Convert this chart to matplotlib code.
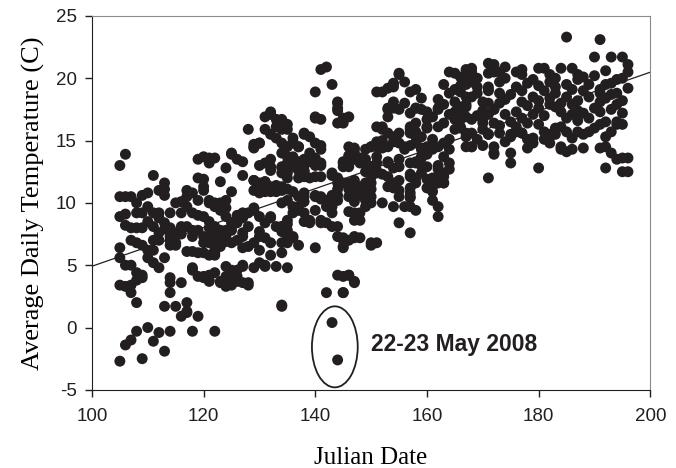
import matplotlib
matplotlib.use("Agg")
import matplotlib.pyplot as plt
from matplotlib.patches import Ellipse
import numpy as np

plt.rcParams["axes.unicode_minus"] = False

# (julian day, average daily temperature in C)
early = [
    (106, 13.9), (105, 13.0), (111, 12.2), (113, 11.6), (113, 11.1), (112, 11.0), (113, 10.6),
    (120, 13.7), (122, 13.6), (121, 13.2), (119, 12.0), (120, 11.9), (123, 11.7), (124, 12.8),
    (105, 10.5), (106, 10.5), (107, 10.5), (117, 11.0), (118, 10.8), (117, 10.5), (116, 10.1),
    (115, 10.0), (120, 11.0), (121, 10.2), (122, 10.0), (123, 10.0), (124, 10.2),
    (105, 8.9), (106, 8.2), (108, 9.2), (109, 9.2), (111, 9.2), (112, 9.2), (114, 9.2), (116, 9.2),
    (107, 8.0), (108, 8.0), (109, 8.0), (110, 8.5), (113, 8.4), (116, 8.1), (115, 7.6), (114, 7.0),
    (118, 7.8), (119, 7.8), (120, 7.3), (121, 8.0), (122, 7.8), (124, 7.4), (125, 7.8),
    (121, 7.2), (123, 7.0), (124, 6.9), (107, 7.0), (108, 6.8), (109, 6.6),
    (111, 7.0), (112, 7.0), (114, 7.3), (115, 6.8), (105, 6.4), (110, 6.2), (111, 6.2), (114, 6.6),
    (115, 6.6), (117, 6.1), (118, 6.1), (120, 6.0), (122, 5.8), (105, 5.6), (106, 5.0), (107, 5.0),
    (110, 5.6), (111, 5.2), (112, 4.8), (113, 5.6), (118, 4.8),
    (108, 4.4), (109, 4.2), (109, 4.0), (108, 3.8), (114, 4.0), (120, 4.0), (121, 4.2), (121, 3.7),
    (123, 3.6), (125, 3.8), (124, 3.3), (105, 3.4), (106, 3.3), (107, 3.4), (107, 2.8), (114, 3.6),
    (116, 3.6), (114, 2.8), (108, 2.0), (113, 1.7), (115, 1.7), (117, 2.0),
    (116, 0.9), (117, 1.2), (119, 0.9), (118, -0.3), (122, -0.3), (114, -0.3), (108, -0.3),
    (110, 0.0), (106, -1.4), (107, -1.0), (112, -0.4), (111, -1.1), (113, -1.9), (105, -2.7), (109, -2.5),
    (120, 11.3), (118, 7.3), (117, 8.1), (123, 9.4), (124, 8.9), (122, 7.3), (122, 6.2), (120, 6.8),
    (118, 4.6), (120, 4.1), (122, 4.4), (124, 4.1), (117, 1.3),
    (119, 13.5), (121, 13.6), (119, 10.2), (121, 10.0), (122, 9.7), (124, 9.6), (120, 8.9),
    (121, 8.5), (122, 8.1), (123, 7.8), (125, 8.1), (121, 6.8), (122, 7.0), (123, 6.5), (125, 6.8),
    (119, 6.0), (121, 5.8), (122, 6.0), (124, 4.9), (119, 4.1), (121, 3.8), (123, 3.7), (125, 3.4),
    (110, 9.7), (112, 8.8), (113, 7.9), (111, 8.1), (112, 7.6), (114, 8.0), (116, 7.5), (117, 9.7),
    (118, 9.2), (119, 9.0), (110, 10.8), (109, 10.6), (106, 9.1), (108, 10.0),
]

mid = [
    (132, 17.1), (133, 16.7), (134, 16.1), (135, 15.9), (131, 15.9), (132, 15.5), (133, 15.2),
    (128, 15.9), (129, 14.7), (130, 14.8), (129, 14.4),
    (134, 14.8), (135, 14.5), (136, 14.9), (137, 14.5), (138, 15.5), (139, 15.3), (140, 14.8),
    (141, 14.6), (140, 16.8), (141, 16.7), (144, 18.0), (144, 17.4), (146, 16.9), (145, 16.4),
    (125, 14.0), (126, 13.5), (127, 13.3),
    (132, 13.5), (132, 12.9), (134, 12.8), (135, 13.2), (136, 12.9), (137, 12.6), (138, 12.5),
    (138, 13.0), (139, 13.3), (140, 13.6), (141, 13.0), (137, 13.3), (130, 13.0), (132, 12.6),
    (125, 10.9), (129, 11.8), (131, 11.7), (132, 11.3), (133, 11.2), (134, 11.0), (131, 10.9),
    (129, 11.0), (130, 10.8), (135, 12.0), (137, 12.0), (138, 12.1), (143, 12.2), (144, 12.0),
    (145, 11.6), (147, 11.5), (147, 11.8), (146, 13.7), (147, 14.3), (146, 14.5), (145, 13.3),
    (126, 9.0), (128, 9.2), (129, 9.6), (138, 10.5), (138, 10.1), (137, 9.7), (136, 9.2),
    (140, 10.6), (141, 10.5), (142, 10.2), (143, 9.7), (144, 10.2), (143, 9.2), (142, 9.7),
    (126, 8.4), (127, 8.8), (128, 8.1), (130, 7.7), (130, 7.3), (132, 8.9), (133, 8.1), (134, 7.7),
    (135, 8.3), (139, 8.6), (141, 8.4), (143, 8.1), (147, 8.6),
    (127, 7.3), (128, 6.5), (131, 7.2), (135, 6.8), (136, 7.3), (137, 6.6), (140, 6.4), (145, 7.2),
    (147, 7.3), (145, 6.5), (132, 5.8), (126, 4.6), (127, 5.0), (129, 4.8), (131, 5.0), (135, 4.8),
    (128, 3.4), (126, 3.7), (144, 4.2), (146, 4.2), (147, 3.7), (142, 2.8), (145, 2.8), (134, 1.7),
    (131, 16.9), (132, 17.3), (133, 16.1), (134, 15.9), (129, 14.5), (130, 14.8), (125, 13.9),
    (131, 13.2), (134, 12.9), (127, 12.2), (129, 11.8), (130, 11.6), (130, 11.3), (131, 11.7),
    (133, 11.4), (133, 10.9), (132, 10.9), (125, 8.4), (124, 7.8), (126, 7.0), (127, 7.6),
    (127, 9.2), (129, 9.4), (130, 8.9), (131, 8.4), (132, 8.8), (134, 8.1), (135, 8.6), (129, 6.8),
    (130, 6.2), (132, 6.8), (127, 6.4), (125, 4.6), (126, 4.1), (127, 4.9), (127, 3.6), (128, 3.6),
    (130, 5.2), (131, 4.9), (133, 4.9), (134, 6.0),
    (141, 20.7), (142, 20.9), (140, 18.9), (143, 19.5), (144, 18.1), (144, 17.6), (140, 16.9),
    (134, 16.7), (135, 16.3), (151, 18.9), (151, 16.1), (136, 15.2), (138, 15.6), (136, 14.8),
    (137, 14.5), (139, 14.0), (141, 14.3), (134, 14.0), (135, 13.7), (136, 13.7), (137, 13.2),
    (138, 13.5), (140, 13.0), (141, 13.2), (134, 12.4), (135, 12.4), (138, 12.6), (140, 12.1),
    (139, 12.0), (141, 12.1), (143, 12.4), (145, 12.9), (146, 13.2), (147, 14.0), (149, 14.3),
    (150, 14.5), (148, 13.2), (149, 13.5), (150, 12.9), (151, 13.2), (150, 12.1), (151, 12.4),
    (134, 11.3), (135, 11.1), (136, 10.9), (137, 10.5), (138, 10.8), (140, 10.5), (141, 10.3),
    (143, 10.6), (143, 10.0), (144, 11.1), (146, 11.1), (147, 10.9), (149, 11.3), (150, 11.1),
    (149, 10.5), (150, 10.5), (147, 10.1), (149, 9.7), (148, 9.2), (134, 10.0), (135, 10.2),
    (136, 9.7), (137, 9.4), (138, 9.2), (140, 9.4), (138, 8.5), (139, 8.4), (141, 8.6), (142, 8.4),
    (144, 8.1), (134, 8.1), (135, 7.8), (135, 7.3), (134, 6.8), (136, 7.2), (145, 7.0), (147, 7.2),
    (145, 6.4), (150, 6.8), (147, 3.6), (134, 1.8),
]

late = [
    (155, 20.3), (156, 19.7), (154, 19.5), (154, 19.3), (152, 18.9), (157, 18.9),
    (154, 18.1), (156, 18.0), (155, 17.5), (153, 17.6), (153, 16.9),
    (159, 18.4), (158, 17.6), (160, 17.3), (162, 18.3), (162, 17.6), (161, 16.9),
    (152, 15.9), (145, 16.8), (144, 16.4), (157, 15.9), (158, 15.7), (160, 16.0), (159, 15.3),
    (161, 15.1), (158, 15.3), (150, 14.5), (151, 14.5), (152, 15.0), (154, 15.3), (155, 14.8),
    (156, 14.5), (147, 14.4), (146, 13.8), (145, 13.2), (147, 13.5), (146, 12.9), (148, 13.6),
    (149, 13.2), (150, 12.9), (149, 12.5), (153, 13.3), (154, 12.8), (155, 12.9), (157, 12.3),
    (157, 12.1), (155, 11.8), (159, 14.4), (160, 14.5), (160, 13.9), (161, 14.3), (159, 13.7),
    (158, 13.2), (159, 13.0), (144, 11.6), (146, 11.6), (147, 11.2), (148, 11.3), (149, 11.6),
    (150, 11.6), (144, 10.6), (146, 10.5), (148, 10.6), (149, 10.8), (149, 10.2), (150, 10.0),
    (152, 10.0), (154, 9.7), (155, 10.5), (157, 10.8), (153, 11.3), (154, 11.2), (157, 10.4),
    (157, 9.7), (161, 12.0), (162, 11.8), (162, 12.1), (163, 12.4), (163, 11.6), (161, 11.3),
    (160, 11.2), (162, 13.0), (163, 13.7), (164, 14.3), (164, 15.1), (161, 10.2), (162, 9.7),
    (162, 8.9), (147, 9.2), (148, 8.6), (146, 9.3), (155, 8.4), (157, 7.6), (144, 7.3), (146, 7.0),
    (148, 7.2), (150, 6.6), (145, 4.1), (146, 4.2), (145, 2.8),
    (164, 20.5), (165, 20.4), (166, 20.1), (167, 20.7), (168, 20.5), (169, 20.0), (171, 20.4),
    (172, 21.1), (173, 20.5), (165, 19.1), (165, 18.1), (165, 17.3), (166, 17.3), (167, 17.7),
    (168, 18.5), (169, 18.8), (170, 18.1), (171, 19.1), (171, 18.0), (172, 17.5), (172, 16.4),
    (165, 16.7), (166, 16.7), (167, 16.9), (168, 16.7), (170, 16.4), (170, 16.7), (165, 15.9),
    (167, 15.6), (168, 15.6), (170, 15.9), (171, 15.5), (167, 14.5), (168, 14.5), (171, 12.0),
    (155, 20.4), (154, 19.6), (153, 19.2), (158, 19.1), (167, 20.3), (168, 20.8), (168, 19.7),
    (167, 19.5), (166, 18.9), (167, 18.5), (166, 17.7), (167, 17.9), (162, 17.5), (158, 17.6),
    (159, 17.5), (157, 17.2), (153, 17.5), (154, 17.6), (166, 16.1), (167, 15.3), (166, 16.0),
    (152, 16.1), (153, 15.6), (155, 15.6), (157, 15.6), (157, 16.1), (158, 16.4), (160, 16.7),
    (162, 16.1), (160, 16.1), (163, 14.8), (162, 14.5), (164, 13.2), (162, 12.7), (163, 12.1),
    (164, 12.7), (162, 11.6), (163, 11.6), (151, 14.9), (152, 14.4), (153, 14.5), (154, 14.9),
    (156, 14.3), (151, 13.7), (153, 13.2), (155, 13.5), (157, 13.2), (158, 13.3), (159, 13.6),
    (157, 14.6), (158, 14.8), (159, 14.3), (160, 12.9), (159, 12.4), (160, 11.9), (158, 12.0),
    (158, 11.6), (161, 10.9), (151, 12.6), (152, 12.3), (153, 12.1), (154, 11.6), (155, 11.0),
    (157, 11.2), (157, 10.5), (158, 9.4), (156, 9.7), (151, 6.8),
    (163, 19.5), (164, 18.8), (163, 17.9), (164, 17.1), (169, 19.3), (170, 17.4), (169, 17.0),
    (166, 19.4), (163, 16.4), (169, 15.1), (170, 14.6), (171, 17.1),
]

summer = [
    (185, 23.3), (191, 23.1),
    (190, 21.7), (193, 21.7), (195, 21.7), (196, 21.1), (196, 20.5), (195, 20.0), (194, 19.9),
    (193, 19.6), (192, 19.5), (191, 19.1), (191, 18.8), (196, 19.2),
    (171, 21.2), (172, 20.5), (174, 20.9), (174, 20.0), (173, 19.7), (171, 19.3), (176, 20.5),
    (177, 20.7), (177, 20.3), (179, 19.9), (180, 20.8), (181, 20.8), (182, 20.3), (182, 19.7),
    (183, 20.0), (184, 20.8), (186, 20.8), (187, 20.3), (187, 19.9),
    (171, 19.0), (173, 18.8), (175, 18.7), (177, 19.0), (177, 18.1), (179, 18.5), (181, 19.0),
    (182, 18.4), (183, 18.8), (185, 18.5), (186, 17.9), (187, 18.2), (188, 19.0), (189, 18.5),
    (191, 18.1), (192, 18.4), (193, 18.7),
    (172, 17.5), (174, 17.1), (176, 17.3), (177, 16.8), (179, 17.1), (180, 17.6), (182, 17.9),
    (183, 17.7), (184, 17.3), (185, 16.8), (186, 17.1), (188, 17.2), (189, 16.8), (191, 17.3),
    (193, 17.5), (194, 17.9), (195, 17.2), (194, 16.5), (192, 16.5), (191, 16.3),
    (171, 15.5), (173, 15.6), (175, 15.5), (176, 15.7), (177, 15.6), (179, 15.2), (181, 15.7),
    (182, 15.5), (181, 15.1), (183, 15.5), (185, 15.7), (186, 15.2), (187, 15.7), (188, 15.5),
    (189, 15.7), (192, 15.3), (193, 15.7), (194, 16.3), (195, 16.3),
    (172, 14.0), (175, 14.0), (178, 14.4), (184, 14.3), (186, 14.3), (188, 14.4), (191, 14.4),
    (192, 14.5), (193, 14.0), (194, 13.5), (195, 13.6), (196, 13.6),
    (175, 13.2), (180, 12.8), (192, 12.8), (195, 12.5), (196, 12.5),
    (168, 14.5), (172, 14.5), (172, 13.9), (174, 14.9), (175, 15.3), (177, 15.6), (178, 15.1),
    (179, 14.8), (182, 15.3), (182, 14.8), (183, 16.0), (184, 14.5), (185, 14.1),
    (173, 18.0), (174, 18.3), (176, 19.3), (178, 19.6), (178, 17.8), (180, 18.2), (180, 19.4),
    (181, 17.0), (183, 19.3), (184, 18.0), (185, 19.5), (186, 19.1), (187, 16.6), (188, 20.1),
    (189, 19.5), (190, 20.2), (190, 17.6), (192, 20.6), (194, 18.8), (195, 18.2), (173, 16.2),
    (175, 16.5), (176, 16.1), (178, 16.4), (180, 16.3), (184, 16.1), (187, 17.4), (190, 16.0),
]

# the two cold days of 22-23 May 2008
event = [(143, 0.4), (144, -2.6)]
event_label = "22-23 May 2008"

pts = np.array(early + mid + late + summer + event)
day, temp = pts[:, 0], pts[:, 1]

fig = plt.figure(figsize=(6.76, 4.68), dpi=100)
ax = fig.add_axes([0.136, 0.167, 0.826, 0.799])

ax.scatter(day, temp, s=62, color="#231f20", edgecolors="none", zorder=3)

# linear fit
coef = np.polyfit(day, temp, 1)
xfit = np.array([100, 200])
ax.plot(xfit, np.polyval(coef, xfit), color="#231f20", lw=0.9, zorder=2)

ax.add_patch(Ellipse((143.5, -1.55), 8.2, 6.5, fill=False, ec="#231f20", lw=1.3))
ax.text(150.0, -1.4, event_label, fontsize=16.5, fontweight="bold",
        family="Liberation Sans", color="#231f20", va="center")

ax.set_xlim(100, 200)
ax.set_ylim(-5, 25)
ax.set_xticks(range(100, 201, 20))
ax.set_yticks(range(-5, 26, 5))
ax.tick_params(direction="out", length=5, width=1, labelsize=13.5, colors="#231f20",
               top=False, right=False)
ax.tick_params(axis="x", pad=8)
ax.tick_params(axis="y", pad=6)
for lab in ax.get_xticklabels() + ax.get_yticklabels():
    lab.set_family("Liberation Sans")
for side in ["left", "bottom"]:
    ax.spines[side].set_color("#231f20")
for side in ["top", "right"]:
    ax.spines[side].set_color("#8a8a8a")

ax.set_xlabel("Julian Date", fontsize=18, family="Liberation Serif", labelpad=16)
ax.set_ylabel("Average Daily Temperature (C)", fontsize=19, family="Liberation Serif", labelpad=8)

fig.savefig("out.png", dpi=100)
